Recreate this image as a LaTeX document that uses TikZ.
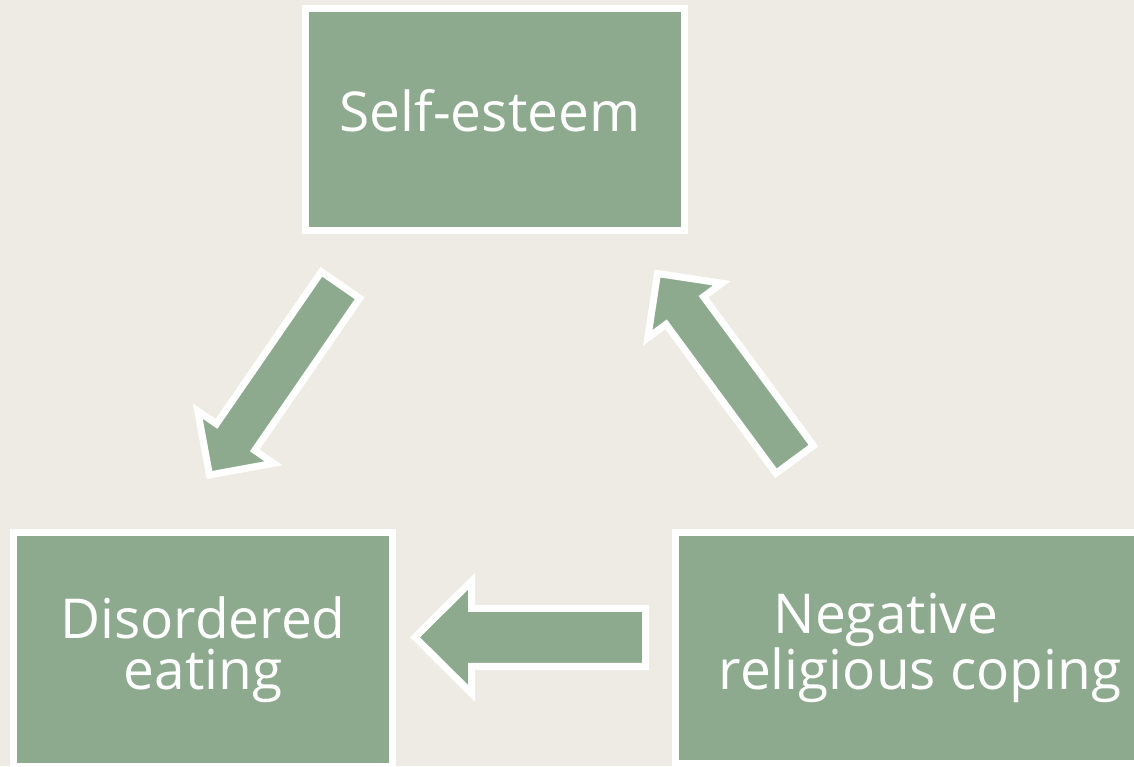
\documentclass[tikz,border=0pt]{standalone}
\usepackage{fontspec}
\setmainfont{Open Sans}
\usetikzlibrary{calc}
\definecolor{paper}{HTML}{EEEBE4}
\definecolor{sage}{HTML}{8DAA8E}

\begin{document}
\begin{tikzpicture}[
  x=1pt,y=-1pt,
  box/.style={draw=white,line width=7pt,fill=sage,inner sep=0pt,align=center,text=white,
    font=\fontsize{55}{51}\selectfont},
  block/.style args={#1/#2/#3}{fill=sage,draw=white,line width=7pt,
    to path={($(\tikztostart)!#1!90:(\tikztotarget)$)
      -- ($(\tikztotarget)!#3!(\tikztostart)!#1!90:(\tikztotarget)$)
      -- ($(\tikztotarget)!#3!(\tikztostart)!#2!90:(\tikztotarget)$)
      -- (\tikztotarget)
      -- ($(\tikztotarget)!#3!(\tikztostart)!#2!-90:(\tikztotarget)$)
      -- ($(\tikztotarget)!#3!(\tikztostart)!#1!-90:(\tikztotarget)$)
      -- ($(\tikztostart)!#1!-90:(\tikztotarget)$) -- cycle}}
]
\useasboundingbox (0,0) rectangle (1134,766);
\clip (0,0) rectangle (1134,766);
\fill[paper] (0,0) rectangle (1134,766);

\node[box,minimum width=379pt,minimum height=221.5pt,text depth=17pt] (selfesteem) at (495,119.25) {Self-esteem\hspace*{10pt}};
\node[box,minimum width=379pt,minimum height=234.5pt] (eating) at (203,649.25) {Disordered\\eating};
\node[box,minimum width=489pt,minimum height=231pt] (coping) at (920,648) {Negative\hspace*{68pt}\\religious coping};

% arrow ends
\coordinate (t1) at (340.5,285);
\coordinate (h1) at (209.5,475);
\coordinate (t2) at (794.7,459.5);
\coordinate (h2) at (657.5,273.5);
\coordinate (t3) at (645.5,637.3);
\coordinate (h3) at (415,637.3);

\draw[block={23.3pt/46pt/46pt}] (t1) to (h1);
\draw[block={23.3pt/46pt/46pt}] (t2) to (h2);
\draw[block={29pt/56pt/56.5pt}] (t3) to (h3);
\end{tikzpicture}
\end{document}
